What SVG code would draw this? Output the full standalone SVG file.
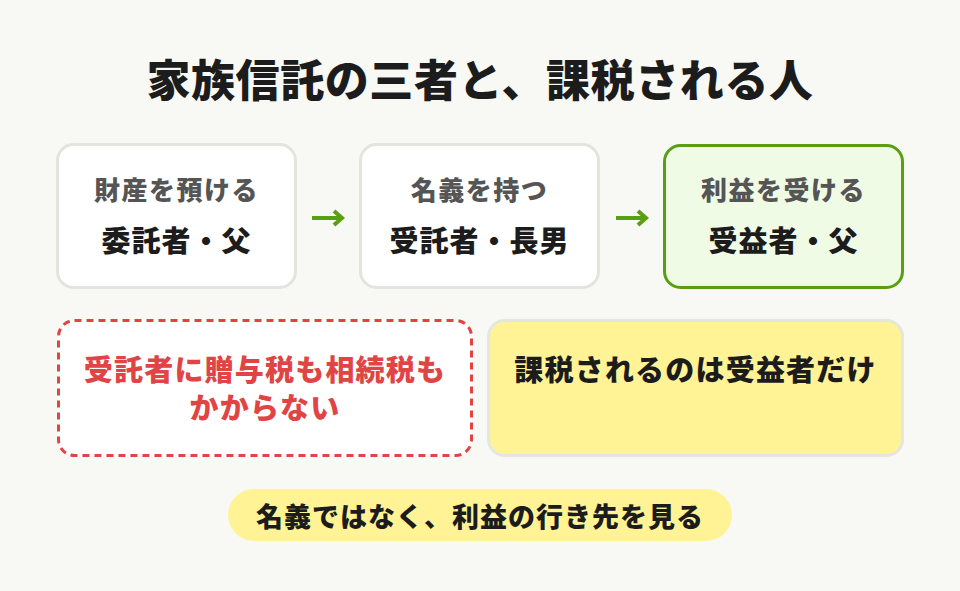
<svg xmlns="http://www.w3.org/2000/svg" width="960" height="591" viewBox="0 0 960 591">
<defs>
<style>
text{font-family:"Noto Sans CJK JP","Noto Sans CJK SC",sans-serif;font-weight:900;text-anchor:middle}
.title{font-size:44px;fill:#1c1c1c;letter-spacing:0.6px}
.sub{font-size:26px;fill:#555555;letter-spacing:1.5px}
.main{font-size:29px;fill:#1c1c1c;letter-spacing:1px}
.card{fill:#ffffff;stroke:#e4e4de;stroke-width:3}
.red{font-size:29px;fill:#e04444;letter-spacing:1.2px}
.blk{font-size:29px;fill:#1c1c1c;letter-spacing:1.2px}
.arrow{stroke:#5a9e12;stroke-width:4;fill:none}
</style>
</defs>
<rect width="960" height="591" fill="#f8f8f4"/>
<text class="title" x="480" y="97">家族信託の三者と、課税される人</text>
<g id="node-settlor">
<rect class="card" x="57.5" y="144.5" width="238" height="143" rx="16"/>
<text class="sub" x="176.5" y="200">財産を預ける</text>
<text class="main" x="176.5" y="252">委託者・父</text>
</g>
<g id="node-trustee">
<rect class="card" x="360.5" y="144.5" width="238" height="143" rx="16"/>
<text class="sub" x="479.5" y="200">名義を持つ</text>
<text class="main" x="479.5" y="252">受託者・長男</text>
</g>
<g id="node-beneficiary">
<rect x="664.5" y="145.5" width="238" height="142" rx="16" fill="#f0fbe6" stroke="#5a9e12" stroke-width="3"/>
<text class="sub" x="783.5" y="200">利益を受ける</text>
<text class="main" x="783.5" y="252">受益者・父</text>
</g>
<g id="connectors">
<path d="M312,218 H341 M334,211 L342,218 L334,225" class="arrow"/>
<path d="M616,218 H645 M638,211 L646,218 L638,225" class="arrow"/>
</g>
<g id="node-note-red">
<rect x="58.5" y="320.5" width="413" height="135" rx="16" fill="#ffffff" stroke="#e04444" stroke-width="3" stroke-dasharray="7 5"/>
<text class="red" x="265" y="381">受託者に贈与税も相続税も</text>
<text class="red" x="265" y="419">かからない</text>
</g>
<g id="node-note-yellow">
<rect x="488.5" y="320.5" width="414" height="135" rx="16" fill="#fff396" stroke="#e6e6e0" stroke-width="3"/>
<text class="blk" x="695.5" y="381">課税されるのは受益者だけ</text>
</g>
<g id="node-pill">
<rect x="228" y="489" width="504" height="52" rx="26" fill="#fff396"/>
<text class="blk" x="480" y="527" style="font-size:27px;letter-spacing:1px">名義ではなく、利益の行き先を見る</text>
</g>
</svg>
